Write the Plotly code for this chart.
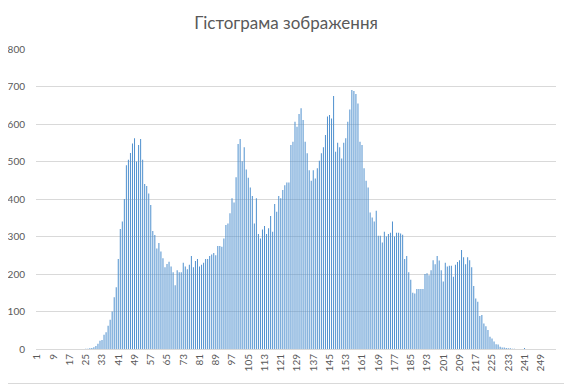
import plotly.graph_objects as go

title_text = "Гістограма зображення"

levels = list(range(1, 257))

counts = [
    0, 0, 0, 0, 0, 0, 0, 0, 0, 0, 0, 0, 0, 0, 0, 0,
    0, 0, 0, 0, 0, 0, 0, 0, 1, 1, 2, 3, 5, 8, 14, 22,
    24, 38, 45, 62, 78, 100, 138, 165, 240, 320, 340, 400, 490, 505, 523, 548,
    562, 500, 544, 560, 505, 440, 435, 415, 384, 315, 304, 268, 283, 260, 242, 218,
    227, 233, 220, 205, 170, 210, 205, 205, 230, 220, 213, 225, 248, 218, 235, 240,
    220, 225, 230, 240, 240, 248, 252, 256, 250, 275, 275, 273, 295, 331, 335, 362,
    402, 391, 458, 547, 560, 501, 538, 479, 457, 431, 408, 335, 402, 307, 295, 319,
    328, 307, 322, 355, 313, 387, 366, 408, 402, 424, 437, 444, 444, 544, 553, 606,
    593, 627, 642, 611, 553, 522, 477, 449, 477, 455, 482, 502, 522, 538, 571, 620,
    624, 615, 675, 526, 550, 538, 508, 550, 562, 606, 639, 691, 688, 680, 655, 553,
    544, 482, 449, 431, 364, 351, 340, 369, 302, 302, 284, 313, 300, 307, 310, 340,
    300, 310, 310, 308, 305, 240, 248, 205, 185, 150, 148, 160, 160, 160, 160, 200,
    202, 197, 210, 237, 226, 248, 236, 210, 180, 230, 220, 222, 222, 193, 225, 232,
    237, 264, 245, 226, 245, 237, 218, 168, 135, 126, 88, 91, 68, 61, 51, 33,
    28, 20, 13, 12, 6, 4, 4, 3, 2, 2, 1, 1, 0, 0, 0, 0,
    3, 0, 0, 0, 0, 0, 0, 0, 0, 0, 0, 0, 0, 0, 0, 0,
]

x_tick_values = [1, 9, 17, 25, 33, 41, 49, 57, 65, 73, 81, 89, 97, 105, 113, 121,
                 129, 137, 145, 153, 161, 169, 177, 185, 193, 201, 209, 217, 225, 233, 241, 249]
x_tick_labels = [str(v) for v in x_tick_values]
y_tick_values = [0, 100, 200, 300, 400, 500, 600, 700, 800]

# page body has an 8px default margin; size the figure to fit the window
W, H = 564, 376
ML, MR, MT, MB = 28, 16, 41, 35
PW, PH = W - ML - MR, H - MT - MB

fig = go.Figure()
fig.add_trace(go.Bar(x=levels, y=counts,
                     marker=dict(color="rgba(80,145,206,0.99)", line=dict(width=0)),
                     hoverinfo="x+y"))

fig.update_layout(
    width=W, height=H,
    margin=dict(l=ML, r=MR, t=MT, b=MB, pad=0),
    paper_bgcolor="white", plot_bgcolor="white",
    bargap=0.5,
    showlegend=False,
    font=dict(family="Lato, 'Open Sans', sans-serif", color="#595959", size=10),
    title=dict(text=title_text, x=(286 - 8) / W, xanchor="center", xref="container",
               y=1 - 15 / H, yanchor="middle", yref="container",
               font=dict(family="Lato, 'Open Sans', sans-serif", size=17, color="#595959")),
    xaxis=dict(range=[0.5, 256.5], tickmode="array", tickvals=x_tick_values,
               ticktext=x_tick_labels, tickangle=-90, showgrid=False,
               showline=True, linecolor="#D9D9D9", linewidth=1, ticks="",
               automargin=False,
               tickfont=dict(size=10, color="#595959"), zeroline=False, fixedrange=True),
    yaxis=dict(range=[0, 800], tickmode="array", tickvals=y_tick_values,
               showgrid=True, gridcolor="#D9D9D9", gridwidth=1, zeroline=False,
               showline=False, ticks="", ticklabelstandoff=10, automargin=False,
               tickfont=dict(size=10, color="#595959"), fixedrange=True),
    shapes=[
        dict(type="line", xref="paper", yref="paper",
             x0=1 + (MR - 0.5) / PW, x1=1 + (MR - 0.5) / PW,
             y0=(-MB + 0.5) / PH, y1=1 + MT / PH,
             line=dict(color="#D9D9D9", width=1)),
        dict(type="line", xref="paper", yref="paper",
             x0=-ML / PW, x1=1 + (MR - 0.5) / PW,
             y0=(-MB + 0.5) / PH, y1=(-MB + 0.5) / PH,
             line=dict(color="#D9D9D9", width=1)),
    ],
)

fig.write_html("out.html")
